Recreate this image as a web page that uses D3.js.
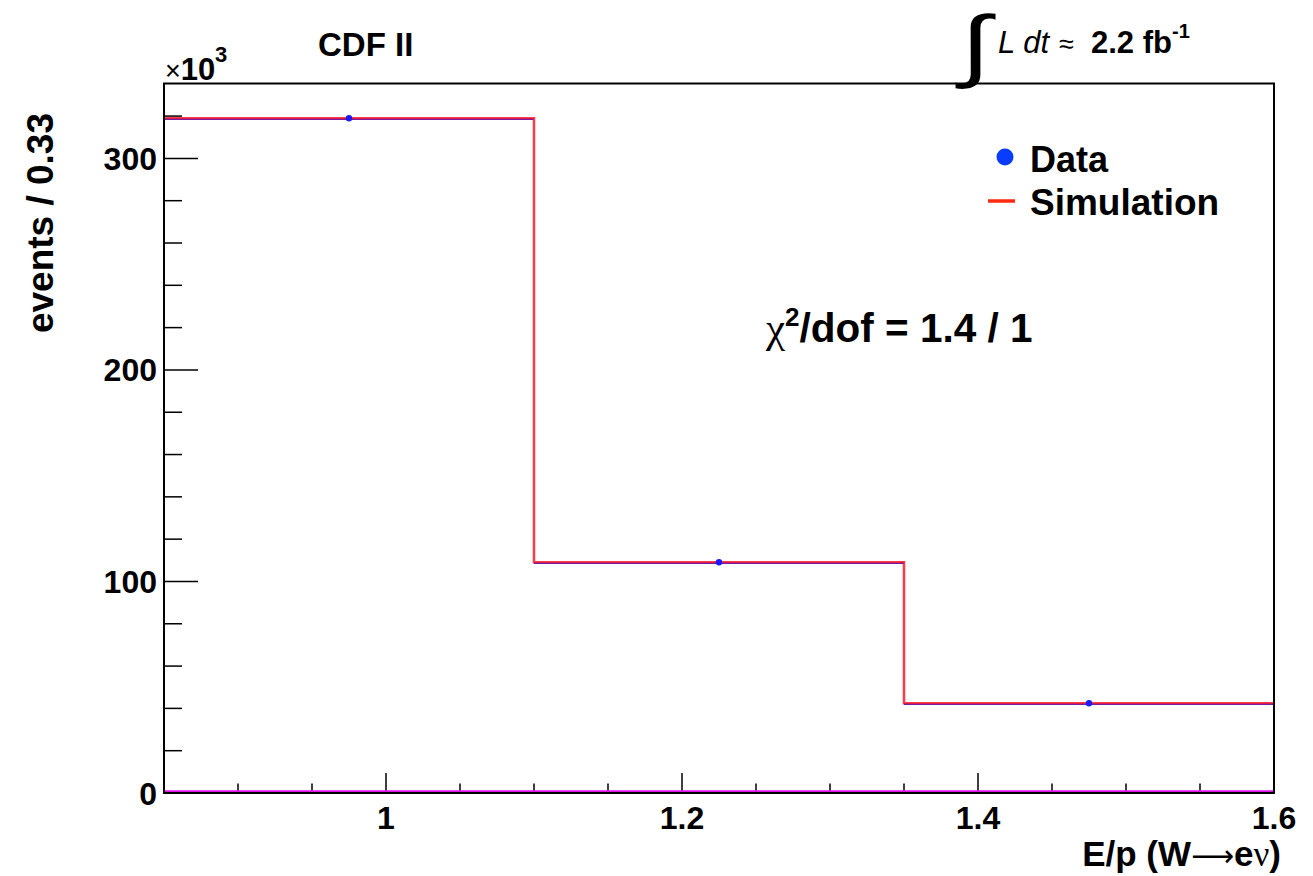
<!DOCTYPE html>
<html><head><meta charset="utf-8">
<script src="https://cdn.jsdelivr.net/npm/d3@7/dist/d3.min.js"></script>
<style>body{margin:0;background:#fff}svg{display:block}text{font-family:"Liberation Sans",Arial,sans-serif}</style>
</head><body>
<svg id="c" width="1313" height="876"></svg>
<script>
// Data (values in units of 10^3 events)
const binEdges = [0.85, 1.1, 1.35, 1.6];
const dataValues = [319.0, 109.1, 42.4];
const simValues = [319.0, 109.1, 42.4];
const xMajorTicks = [1.0, 1.2, 1.4, 1.6];
const xTickLabels = ["1", "1.2", "1.4", "1.6"];
const yMajorTicks = [0, 100, 200, 300];
const yTickLabels = ["0", "100", "200", "300"];

const W = 1313, H = 876;
const m = {left:164, top:83.5, right:1274, bottom:793};
const svg = d3.select("#c");
const x = d3.scaleLinear().domain([0.85, 1.6]).range([m.left, m.right]);
const y = d3.scaleLinear().domain([0, 335.4]).range([m.bottom, m.top]);

// ticks
const xMinor = d3.range(0.9, 1.6, 0.05).filter(v => !xMajorTicks.some(t => Math.abs(t - v) < 1e-6));
const yMinor = d3.range(20, 335, 20).filter(v => v % 100 !== 0);
const g = svg.append("g");
g.selectAll(".xmaj").data(xMajorTicks).join("line")
  .attr("x1", d => x(d)).attr("x2", d => x(d)).attr("y1", m.bottom).attr("y2", m.bottom - 20)
  .attr("stroke", "#000").attr("stroke-width", 1.5);
g.selectAll(".xmin").data(xMinor).join("line")
  .attr("x1", d => x(d)).attr("x2", d => x(d)).attr("y1", m.bottom).attr("y2", m.bottom - 9.5)
  .attr("stroke", "#000").attr("stroke-width", 1.5);
g.selectAll(".ymaj").data(yMajorTicks).join("line")
  .attr("y1", d => y(d)).attr("y2", d => y(d)).attr("x1", m.left).attr("x2", m.left + 34)
  .attr("stroke", "#000").attr("stroke-width", 1.5);
g.selectAll(".ymin").data(yMinor).join("line")
  .attr("y1", d => y(d)).attr("y2", d => y(d)).attr("x1", m.left).attr("x2", m.left + 18)
  .attr("stroke", "#000").attr("stroke-width", 1.5);

// tick labels
g.selectAll(".xl").data(xMajorTicks).join("text")
  .attr("x", d => x(d)).attr("y", 829).attr("text-anchor", "middle")
  .attr("font-size", 32).attr("font-weight", "bold").text((d, i) => xTickLabels[i]);
g.selectAll(".yl").data(yMajorTicks).join("text")
  .attr("x", 157).attr("y", d => y(d) + 11.5).attr("text-anchor", "end")
  .attr("font-size", 32).attr("font-weight", "bold").text((d, i) => yTickLabels[i]);

// baseline (empty histogram) at y=0
svg.append("line").attr("x1", x(0.85)).attr("x2", x(1.6)).attr("y1", y(0) - 1.5).attr("y2", y(0) - 1.5)
  .attr("stroke", "#e010e8").attr("stroke-width", 2.5);

// data x-error bars (blue)
const bins = dataValues.map((v, i) => ({x0: binEdges[i], x1: binEdges[i + 1], v, s: simValues[i]}));
svg.selectAll(".err").data(bins).join("line")
  .attr("x1", d => x(d.x0)).attr("x2", d => x(d.x1)).attr("y1", d => y(d.v) + 0.7).attr("y2", d => y(d.v) + 0.7)
  .attr("stroke", "#1020ff").attr("stroke-width", 2);

// simulation histogram step line (red)
const stepPts = [];
bins.forEach((b, i) => { stepPts.push([b.x0, b.s]); stepPts.push([b.x1, b.s]); });
svg.append("path").datum(stepPts)
  .attr("d", d3.line().x(d => x(d[0])).y(d => y(d[1])))
  .attr("fill", "none").attr("stroke", "#ff1a2a").attr("stroke-opacity", 0.85).attr("stroke-width", 2.5);

// data points
svg.selectAll(".pt").data(bins).join("circle")
  .attr("cx", d => x((d.x0 + d.x1) / 2)).attr("cy", d => y(d.v)).attr("r", 3.2).attr("fill", "#1a1aff");

// frame
svg.append("rect").attr("x", m.left).attr("y", m.top).attr("width", m.right - m.left).attr("height", m.bottom - m.top)
  .attr("fill", "none").attr("stroke", "#000").attr("stroke-width", 2);

// axis titles
svg.append("text").attr("transform", "translate(53,113) rotate(-90)").attr("text-anchor", "end")
  .attr("font-size", 37).attr("font-weight", "bold").text("events / 0.33");
const xt = svg.append("text").attr("x", 1281).attr("y", 866).attr("text-anchor", "end")
  .attr("font-size", 35).attr("font-weight", "bold");
xt.append("tspan").text("E/p (W");
xt.append("tspan").attr("font-family", "DejaVu Sans").attr("font-weight", "normal").attr("font-size", 30).text("\u27f6");
xt.append("tspan").text("e");
xt.append("tspan").attr("font-family", "Liberation Serif").attr("font-weight", "normal").text("\u03bd");
xt.append("tspan").text(")");

// x10^3
const mul = svg.append("text").attr("x", 165).attr("y", 80).attr("font-size", 31);
mul.append("tspan").attr("font-size", 27).text("\u00d7");
mul.append("tspan").attr("font-weight", "bold").text("10");
svg.append("text").attr("x", 215).attr("y", 62).attr("font-size", 22).attr("font-weight", "bold").text("3");

// CDF II
svg.append("text").attr("x", 318).attr("y", 56).attr("font-size", 33).attr("font-weight", "bold").text("CDF II");

// luminosity
svg.append("text").attr("transform", "translate(961,72) scale(1.35,1)").attr("font-family", "Liberation Serif").attr("font-size", 80).text("\u222b");
const lum = svg.append("text").attr("x", 998).attr("y", 53).attr("font-size", 31);
lum.append("tspan").attr("font-style", "italic").text("L dt");
lum.append("tspan").attr("x", 1059).attr("font-size", 27).text("\u2248");
lum.append("tspan").attr("x", 1091).attr("font-weight", "bold").text("2.2 fb");
lum.append("tspan").attr("dy", -15).attr("font-size", 20).attr("font-weight", "bold").text("-1");

// legend
svg.append("circle").attr("cx", 1005).attr("cy", 157).attr("r", 8.5).attr("fill", "#0a3cff");
svg.append("text").attr("x", 1030).attr("y", 172).attr("font-size", 36).attr("font-weight", "bold").text("Data");
svg.append("line").attr("x1", 988).attr("x2", 1015).attr("y1", 201).attr("y2", 201).attr("stroke", "#ff2a10").attr("stroke-width", 3.5);
svg.append("text").attr("x", 1030).attr("y", 215).attr("font-size", 37).attr("font-weight", "bold").text("Simulation");

// chi2
const chi = svg.append("text").attr("x", 766).attr("y", 342).attr("font-size", 40.5).attr("font-weight", "bold");
chi.append("tspan").attr("font-family", "Liberation Serif").attr("font-weight", "normal").attr("font-size", 43).text("\u03c7");
chi.append("tspan").attr("font-size", 26).attr("dy", -16).text("2");
chi.append("tspan").attr("dy", 16).text("/dof = 1.4 / 1");
</script>
</body></html>
